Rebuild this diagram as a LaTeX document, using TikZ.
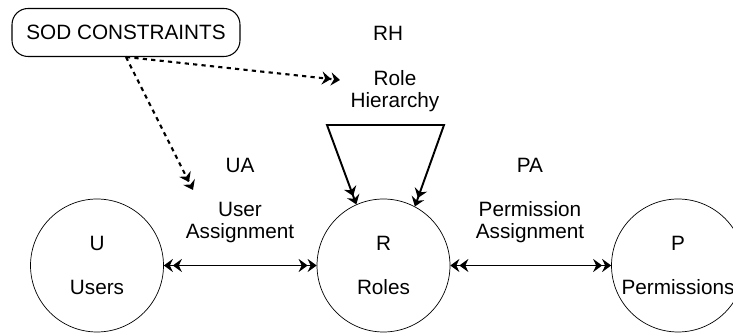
\documentclass[tikz,border=0pt]{standalone}
\usepackage{fontspec}
\setmainfont{Liberation Sans}
\usetikzlibrary{arrows.meta}
\tikzset{>={Stealth[width=2.6mm,length=1.8mm,inset=0.6mm] Stealth[width=2.6mm,length=1.8mm,inset=0.6mm]}}

\begin{document}
\begin{tikzpicture}[
    x = 0.02cm, y = -0.02cm,
    every node/.style = {font=\fontsize{11.8}{12.5}\selectfont, align=center},
    set/.style = {draw, thin, circle, minimum size=2.66cm, inner sep=0mm},
    sodbox/.style = {draw, semithick, rounded corners=3.2mm,
        minimum width=4.56cm, minimum height=0.96cm},
    link/.style = {line width=1.1pt, <->},
    constraint/.style = {line width=1.2pt, dash pattern=on 2.4pt off 2.4pt, ->}
  ]
  \useasboundingbox (0,0) rectangle (733,333);

  % the three sets
  \node[set] (U) at (97,265.5) {U\\[12.5pt]Users};
  \node[set] (R) at (383.5,265.5) {R\\[12.5pt]Roles};
  \node[set] (P) at (678,265.5) {P\\[12.5pt]Permissions};

  % relation labels
  \node (UA) at (240,165) {UA};
  \node (UAtext) at (240,222.5) {User\\Assignment};
  \node (PA) at (530,165) {PA};
  \node (PAtext) at (530,222.5) {Permission\\Assignment};
  \node (RH) at (388,33) {RH};
  \node (RHtext) at (395,91) {Role\\Hierarchy};

  \node[sodbox] (SOD) at (126,32.5) {SOD CONSTRAINTS};

  \draw[link] (U) -- (R);
  \draw[link] (R) -- (P);
  \draw[link] (R.114) -- (327,125) -- (444,125) -- (R.62);

  \coordinate (toUA) at (193,190);
  \coordinate (toRH) at (340,80);
  \draw[constraint] (SOD.south) -- (toUA);
  \draw[constraint] (SOD.south) -- (toRH);
\end{tikzpicture}
\end{document}
